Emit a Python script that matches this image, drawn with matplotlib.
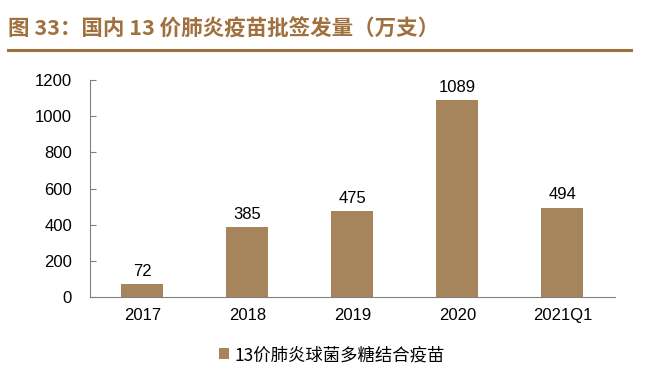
import matplotlib.pyplot as plt

plt.rcParams['font.family'] = ['Noto Sans CJK SC', 'DejaVu Sans']

categories = ['2017', '2018', '2019', '2020', '2021Q1']
values = [72, 385, 475, 1089, 494]
series_name = '13价肺炎球菌多糖结合疫苗'
title = '图 33：国内 13 价肺炎疫苗批签发量（万支）'

bar_color = '#A6855C'
title_color = '#A0703F'

fig = plt.figure(figsize=(6.64, 3.91), dpi=100)
ax = fig.add_axes([0.1355, 0.2404, 0.7905, 0.5546])

x = list(range(len(categories)))
bars = ax.bar(x, values, width=0.4, color=bar_color, label=series_name)
for xi, v in zip(x, values):
    ax.text(xi, v + 30, str(v), ha='center', va='bottom', fontsize=12,
            family=['Liberation Sans', 'DejaVu Sans'])

ax.set_xlim(-0.5, len(categories) - 0.5)
ax.set_ylim(0, 1200)
ax.set_yticks(range(0, 1201, 200))
ax.set_xticks(x)
ax.set_xticklabels(categories)
for lab in ax.get_xticklabels() + ax.get_yticklabels():
    lab.set_family(['Liberation Sans', 'DejaVu Sans'])
    lab.set_fontsize(12)

ax.spines['top'].set_visible(False)
ax.spines['right'].set_visible(False)
ax.spines['left'].set_color('#808080')
ax.spines['bottom'].set_color('#808080')
ax.tick_params(axis='y', direction='in', length=4, color='#808080', pad=13)
ax.tick_params(axis='x', length=0, pad=8)

fig.legend(handles=[bars], labels=[series_name], loc='center',
           bbox_to_anchor=(0.5, 0.092), frameon=False, fontsize=12.5,
           handlelength=0.6, handleheight=0.6, handletextpad=0.3)

fig.text(0.012, 0.925, title, fontsize=15.5, fontweight='bold', color=title_color,
         ha='left', va='center')
fig.add_artist(plt.Line2D([0.012, 0.950], [0.873, 0.873], color=title_color,
                          linewidth=2.2))

fig.savefig('out.png', dpi=100)
